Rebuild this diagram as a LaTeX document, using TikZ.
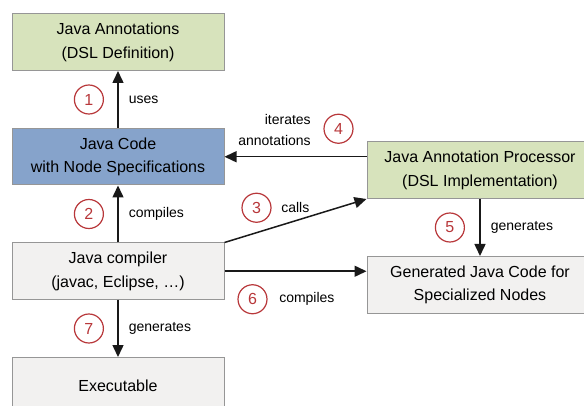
\documentclass[tikz,border=0pt]{standalone}
\usepackage{fontspec}
\setmainfont{Liberation Sans}
\usepackage{tikz}
\usetikzlibrary{positioning,arrows.meta}
\definecolor{dslgreen}{HTML}{D7E3BC}
\definecolor{codeblue}{HTML}{86A3CB}
\definecolor{plaingray}{HTML}{F2F1F0}
\definecolor{boxline}{HTML}{969696}
\definecolor{numred}{HTML}{B8373A}
\tikzset{
  box/.style={draw=boxline,line width=1pt,minimum width=212pt,minimum height=56.5pt,
    align=center,inner sep=2pt,font=\fontsize{16}{23.5}\selectfont},
  widebox/.style={box,minimum width=226pt},
  lbl/.style={inner sep=1pt,align=right,font=\fontsize{14}{21}\selectfont},
  num/.style={circle,draw=numred,fill=white,text=numred,line width=1.2pt,
    minimum size=29pt,inner sep=0pt,font=\fontsize{16}{16}\selectfont},
  every edge/.style={draw=black!90,line width=1.5pt,-{Triangle[length=12pt,width=11pt]}},
}
\begin{document}
\begin{tikzpicture}[node distance=57pt]
\useasboundingbox (0,0) rectangle (584pt,-406pt);

\node[box,fill=dslgreen] (annot) at (118pt,-42.25pt) {Java Annotations\\(DSL Definition)};
\node[box,fill=codeblue,below=of annot] (code) {Java Code\\with Node Specifications};
\node[box,fill=plaingray,below=of code] (javac) {Java compiler\\(javac, Eclipse, \dots)};
\node[box,fill=plaingray,below=of javac] (exec) {Executable};
\node[widebox,fill=dslgreen,right=142pt of code,yshift=-13.5pt] (proc) {Java Annotation Processor\\(DSL Implementation)};
\node[widebox,fill=plaingray,below=of proc] (gen) {Generated Java Code for\\Specialized Nodes};

\path
(code) edge node[lbl,midway,right=9pt] (l1) {uses} node[num,midway,left=14pt] (n1) {1} (annot)
(javac) edge node[lbl,midway,right=9pt] (l2) {compiles} node[num,midway,left=14pt] (n2) {2} (code)
(javac.north east) edge node[lbl,midway,anchor=west,xshift=-16pt,yshift=13pt] (l3) {calls}
  node[num,midway,xshift=-39pt,yshift=13pt] (n3) {3} (proc.south west)
(proc.west |- code.east) edge node[lbl,midway,anchor=south east,xshift=17pt,yshift=9pt] (l4) {iterates\\annotations}
  node[num,midway,xshift=43pt,yshift=28pt] (n4) {4} (code.east)
(proc) edge node[lbl,midway,right=9pt] (l5) {generates} node[num,midway,left=15pt] (n5) {5} (gen)
(javac.east) edge node[lbl,midway,anchor=west,xshift=-18pt,yshift=-28pt] (l6) {compiles}
  node[num,midway,xshift=-43pt,yshift=-28pt] (n6) {6} (gen.west |- javac.east)
(javac) edge node[lbl,midway,right=9pt] (l7) {generates} node[num,midway,left=14pt] (n7) {7} (exec);

\end{tikzpicture}
\end{document}
